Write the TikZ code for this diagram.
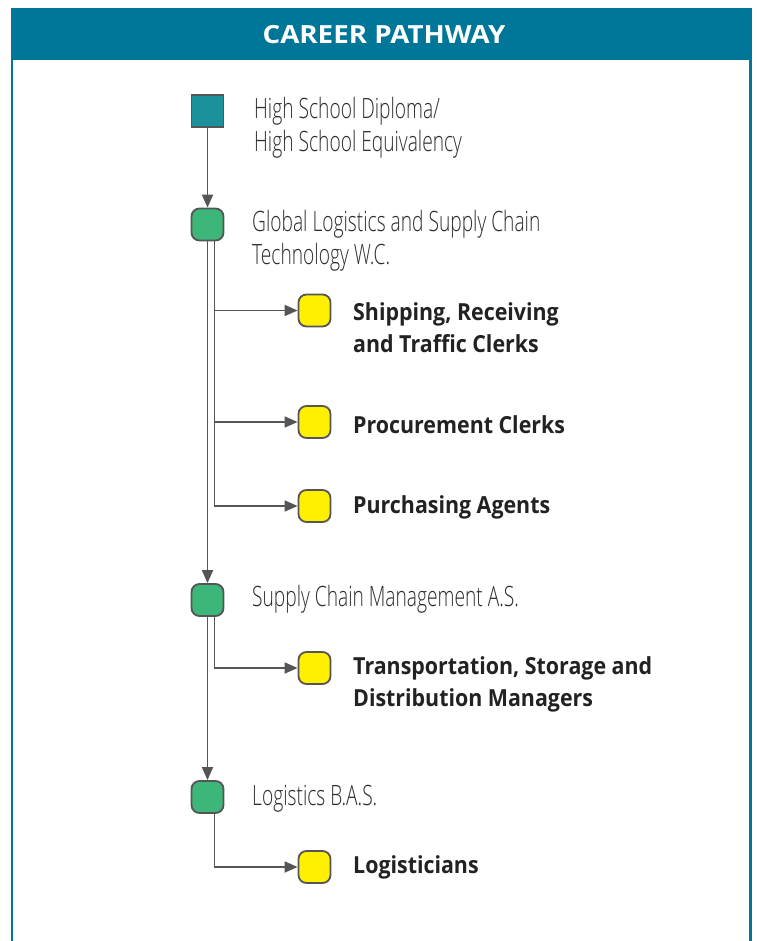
\documentclass[tikz,border=0pt]{standalone}
\usepackage{fontspec}
\setmainfont{Open Sans}[FakeStretch=0.91]
\IfFontExistsTF{Open Sans Light}
  {\newfontfamily\lightfam{Open Sans Light}[FakeStretch=0.685]}
  {\newfontfamily\lightfam{Open Sans}[FakeStretch=0.685]}
\newfontfamily\hdrfam{Open Sans}[FakeStretch=1.11]
\usetikzlibrary{arrows.meta}
\definecolor{hdr}{RGB}{0,119,153}
\definecolor{sqfill}{RGB}{26,145,155}
\definecolor{grn}{RGB}{61,182,122}
\definecolor{ylw}{RGB}{255,239,0}
\definecolor{edge}{RGB}{85,85,85}
\definecolor{lighttxt}{RGB}{45,45,45}
\definecolor{boldtxt}{RGB}{34,34,34}
\tikzset{
  box/.style={draw=edge, line width=1.8pt, minimum width=32pt, minimum height=32pt, inner sep=0pt},
  sqbox/.style={box, fill=sqfill},
  gbox/.style={box, fill=grn, rounded corners=8pt},
  ybox/.style={box, fill=ylw, rounded corners=8pt},
  lbl/.style={anchor=west, inner sep=0pt, align=left, text=lighttxt, font=\lightfam\fontsize{28}{32.5}\selectfont},
  blbl/.style={anchor=west, inner sep=0pt, align=left, text=boldtxt, font=\fontsize{23.5}{32}\selectfont\bfseries},
  arr/.style={draw=edge, line width=1.8pt, -{Triangle[length=13pt, width=11pt]}},
}
\begin{document}
\begin{tikzpicture}[x=1pt, y=-1pt]
\useasboundingbox (0,0) rectangle (756,941);
% frame
\fill[white] (0,0) rectangle (756,941);
\draw[hdr, line width=2.6pt] (12,60) -- (12,945);
\draw[hdr, line width=2.6pt] (750.5,60) -- (750.5,945);
\fill[hdr] (10.7,8) rectangle (752,60);
\node[text=white, font=\hdrfam\fontsize{25}{30}\selectfont\bfseries, inner sep=0pt] (title) at (384,35) {CAREER PATHWAY};
% nodes
\node[sqbox] (sq) at (207.5,111) {};
\node[gbox] (g1) at (207.5,224.5) {};
\node[gbox] (g2) at (207.5,600) {};
\node[gbox] (g3) at (207.5,797) {};
\node[ybox] (y1) at (314.5,310.5) {};
\node[ybox] (y2) at (314.5,422) {};
\node[ybox] (y3) at (314.5,506) {};
\node[ybox] (y4) at (314.5,668) {};
\node[ybox] (y5) at (314.5,867) {};
% labels
\node[lbl] (tsq) at (254,127.5) {High School Diploma/\\High School Equivalency};
\node[lbl] (tg1) at (252,240.5) {Global Logistics and Supply Chain\\Technology W.C.};
\node[lbl] (tg2) at (252,599.5) {Supply Chain Management A.S.};
\node[lbl] (tg3) at (252,798.5) {Logistics B.A.S.};
\node[blbl] (ty1) at (353,327.5) {Shipping, Receiving\\and Traffic Clerks};
\node[blbl] (ty2) at (353,424.5) {Procurement Clerks};
\node[blbl] (ty3) at (353,507.5) {Purchasing Agents};
\node[blbl] (ty4) at (353,684.5) {Transportation, Storage and\\Distribution Managers};
\node[blbl] (ty5) at (353,867.5) {Logisticians};
% connectors
\draw[arr] (sq.south) -- (g1.north);
\draw[arr] (g1.south) -- (g2.north);
\draw[arr] (g2.south) -- (g3.north);
\draw[arr] ([xshift=7pt]g1.south) |- (y1.west);
\draw[arr] ([xshift=7pt]g1.south) |- (y2.west);
\draw[arr] ([xshift=7pt]g1.south) |- (y3.west);
\draw[arr] ([xshift=7pt]g2.south) |- (y4.west);
\draw[arr] ([xshift=7pt]g3.south) |- (y5.west);
\end{tikzpicture}
\end{document}
